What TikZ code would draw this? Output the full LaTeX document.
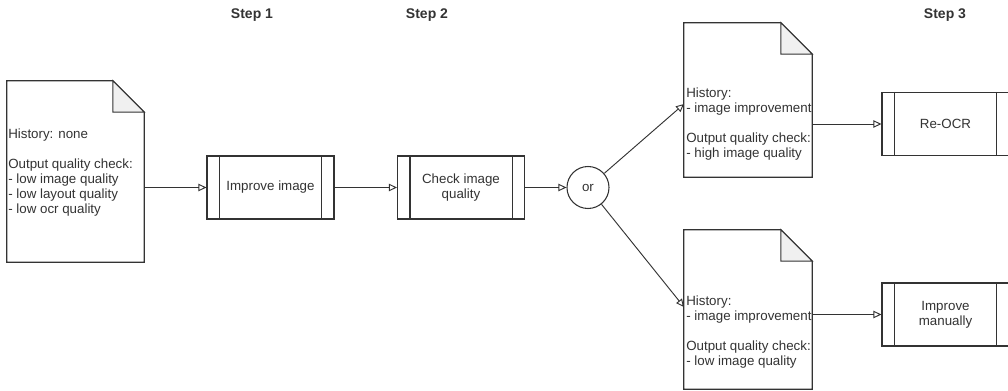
\documentclass[tikz,border=0pt]{standalone}
\usepackage{fontspec}
\setmainfont{Liberation Sans}
\usetikzlibrary{arrows.meta}
\definecolor{ln}{HTML}{333333}
\definecolor{foldfill}{HTML}{F0F0F0}
\begin{document}
\begin{tikzpicture}[x=0.75pt,y=-0.75pt,
  every node/.style={text=ln},
  txt/.style={font=\fontsize{10}{11.25}\selectfont},
  steplabel/.style={font=\fontsize{10.5}{12}\selectfont\bfseries, anchor=base},
  procbox/.style={draw=ln, line width=0.8pt, fill=white, minimum width=95.25pt, minimum height=47.25pt, align=center, txt},
  docbox/.style={draw=none, inner sep=0pt},
  doctext/.style={anchor=base west, inner sep=0pt, txt},
  ornode/.style={draw=ln, line width=0.8pt, circle, minimum size=31.5pt, inner sep=0pt, txt},
  arr/.style={draw=ln, line width=0.7pt, -{Triangle[open, length=6pt, width=5.5pt]}},
  outl/.style={draw=ln, line width=0.8pt}
]
\path[use as bounding box, clip] (0,0) rectangle (1008,390);

% step labels
\node[steplabel] (s1) at (252,18) {Step 1};
\node[steplabel] (s2) at (427,18) {Step 2};
\node[steplabel] (s3) at (945,18) {Step 3};

% documents
\node[docbox, minimum width=102.75pt, minimum height=135.75pt] (d1) at (75.5,171.5) {};
\node[docbox, minimum width=96pt, minimum height=115.5pt] (d2) at (748,100) {};
\node[docbox, minimum width=96pt, minimum height=119.25pt] (d3) at (748,309.5) {};
\foreach \d in {d1,d2,d3}{
  \draw[outl, fill=white] (\d.north west) -- ([xshift=-23.5pt]\d.north east) -- ([yshift=-23.5pt]\d.north east) -- (\d.south east) -- (\d.south west) -- cycle;
  \draw[outl, fill=foldfill] ([xshift=-23.5pt]\d.north east) -- ([xshift=-23.5pt,yshift=-23.5pt]\d.north east) -- ([yshift=-23.5pt]\d.north east) -- cycle;
}
\node[doctext] (t1) at (8,138) {\begin{tabular}[t]{@{}l@{}}History: none\\ \\ Output quality check:\\- low image quality\\- low layout quality\\- low ocr quality\end{tabular}};
\node[doctext] (t2) at (686,97) {\begin{tabular}[t]{@{}l@{}}History:\\- image improvement\\ \\ Output quality check:\\- high image quality\end{tabular}};
\node[doctext] (t3) at (686,305) {\begin{tabular}[t]{@{}l@{}}History:\\- image improvement\\ \\ Output quality check:\\- low image quality\end{tabular}};

% process boxes
\node[procbox] (b1) at (270.5,187.5) {Improve image};
\node[procbox] (b2) at (461,187.5) {Check image\\quality};
\node[procbox] (b3) at (945.5,124) {Re-OCR};
\node[procbox] (b4) at (945.5,314.5) {Improve\\manually};
\foreach \b in {b1,b2,b3,b4}{
  \draw[outl] ([xshift=9.75pt]\b.north west) -- ([xshift=9.75pt]\b.south west);
  \draw[outl] ([xshift=-9.75pt]\b.north east) -- ([xshift=-9.75pt]\b.south east);
}

% or
\node[ornode] (or) at (588,187.5) {or};
\coordinate (in2) at (684,104);
\coordinate (in3) at (684,307);

% connectors
\draw[arr] (b1.west -| d1.east) -- (b1.west);
\draw[arr] (b1) -- (b2);
\draw[arr] (b2) -- (or);
\draw[arr] (or) -- (in2);
\draw[arr] (or) -- (in3);
\draw[arr] (b3.west -| d2.east) -- (b3.west);
\draw[arr] (b4.west -| d3.east) -- (b4.west);
\end{tikzpicture}
\end{document}
